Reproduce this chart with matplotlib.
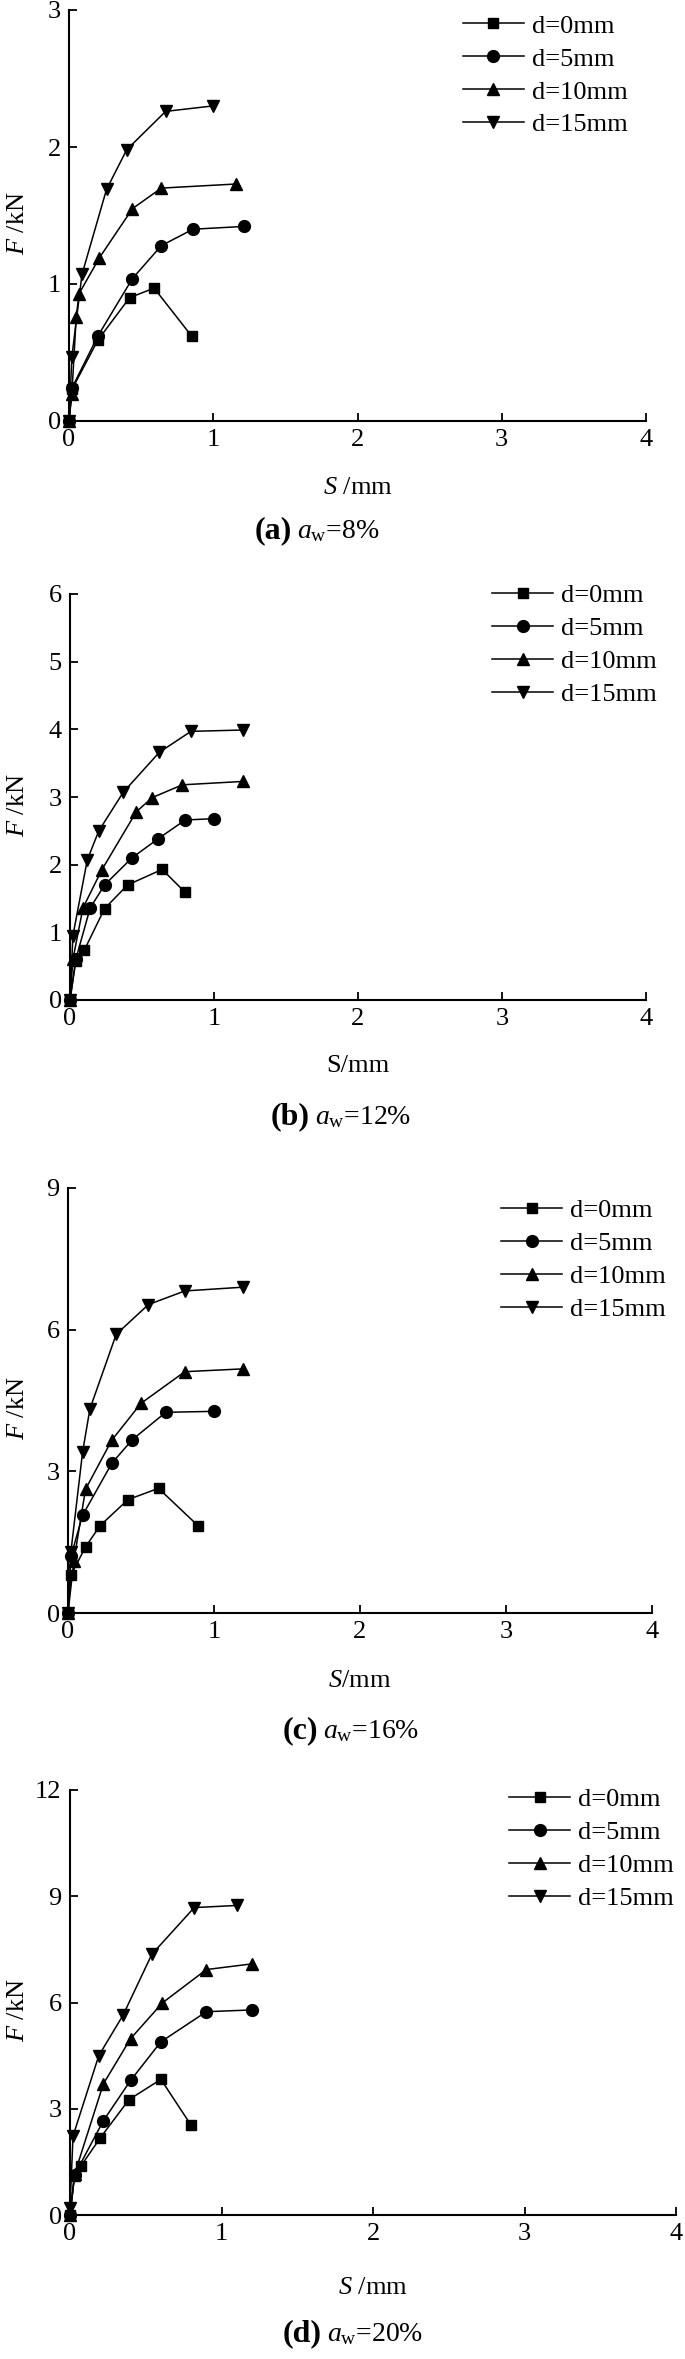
import matplotlib
matplotlib.use("Agg")
import matplotlib.pyplot as plt

plt.rcParams['font.family'] = ['Liberation Serif', 'DejaVu Serif']
plt.rcParams['mathtext.fontset'] = 'custom'
plt.rcParams['mathtext.rm'] = 'Liberation Serif'
plt.rcParams['mathtext.it'] = 'Liberation Serif:italic'
plt.rcParams['mathtext.bf'] = 'Liberation Serif:bold'

labels = ["d=0mm", "d=5mm", "d=10mm", "d=15mm"]
markers = ["s", "o", "^", "v"]
msizes = [7.5, 8.5, 9, 9]

# panel (a) aw=8%
s_a = [[0, 0.02, 0.2, 0.42, 0.59, 0.85],
       [0, 0.02, 0.2, 0.44, 0.64, 0.86, 1.21],
       [0, 0.02, 0.05, 0.07, 0.21, 0.44, 0.64, 1.16],
       [0, 0.02, 0.09, 0.26, 0.40, 0.67, 1.0]]
f_a = [[0, 0.23, 0.59, 0.9, 0.97, 0.62],
       [0, 0.24, 0.62, 1.04, 1.28, 1.40, 1.42],
       [0, 0.2, 0.76, 0.93, 1.19, 1.55, 1.70, 1.73],
       [0, 0.47, 1.07, 1.69, 1.98, 2.26, 2.30]]

# panel (b) aw=12%
s_b = [[0, 0.04, 0.1, 0.24, 0.4, 0.64, 0.8],
       [0, 0.04, 0.14, 0.24, 0.43, 0.61, 0.8, 1.0],
       [0, 0.02, 0.09, 0.22, 0.46, 0.57, 0.78, 1.2],
       [0, 0.02, 0.12, 0.2, 0.37, 0.62, 0.84, 1.2]]
f_b = [[0, 0.57, 0.74, 1.35, 1.70, 1.93, 1.59],
       [0, 0.6, 1.36, 1.70, 2.10, 2.38, 2.66, 2.68],
       [0, 0.6, 1.36, 1.92, 2.78, 2.99, 3.18, 3.23],
       [0, 0.95, 2.07, 2.50, 3.07, 3.66, 3.97, 3.99]]

# panel (c) aw=16%
s_c = [[0, 0.02, 0.12, 0.22, 0.41, 0.62, 0.89],
       [0, 0.02, 0.1, 0.3, 0.44, 0.67, 1.0],
       [0, 0.04, 0.12, 0.3, 0.5, 0.8, 1.2],
       [0, 0.02, 0.1, 0.15, 0.33, 0.55, 0.8, 1.2]]
f_c = [[0, 0.8, 1.4, 1.85, 2.4, 2.64, 1.85],
       [0, 1.2, 2.07, 3.17, 3.67, 4.25, 4.27],
       [0, 1.1, 2.62, 3.66, 4.44, 5.11, 5.17],
       [0, 1.3, 3.41, 4.32, 5.9, 6.53, 6.82, 6.9]]

# panel (d) aw=20%
s_d = [[0, 0.03, 0.07, 0.2, 0.39, 0.6, 0.8],
       [0, 0.03, 0.22, 0.4, 0.6, 0.9, 1.2],
       [0, 0.03, 0.22, 0.4, 0.61, 0.9, 1.2],
       [0, 0.02, 0.19, 0.35, 0.54, 0.82, 1.1]]
f_d = [[0, 1.1, 1.37, 2.18, 3.26, 3.83, 2.53],
       [0, 1.13, 2.66, 3.8, 4.89, 5.74, 5.79],
       [0, 1.15, 3.7, 4.98, 5.99, 6.93, 7.09],
       [0.2, 2.23, 4.5, 5.64, 7.36, 8.68, 8.74]]

y_ticks = [[0, 1, 2, 3], [0, 1, 2, 3, 4, 5, 6], [0, 3, 6, 9], [0, 3, 6, 9, 12]]
x_labels = [r"$\mathit{S}$ /mm", "S/mm", r"$\mathit{S}$/mm", r"$\mathit{S}$ /mm"]
cap_tags = ["(a)", "(b)", "(c)", "(d)"]
cap_vals = [r"$\mathit{a}_{\mathrm{w}}$=8%", r"$\mathit{a}_{\mathrm{w}}$=12%",
            r"$\mathit{a}_{\mathrm{w}}$=16%", r"$\mathit{a}_{\mathrm{w}}$=20%"]

W, H = 685, 2359
fig = plt.figure(figsize=(W / 100, H / 100), dpi=100)

# axes boxes in pixels: left, right, top, bottom
boxes = [(69, 646, 10, 421), (70, 646, 594, 1000),
         (68, 652, 1188, 1613), (70, 676, 1790, 2215)]
leg_pos = [(0.683, 0.99), (0.733, 1.025), (0.742, 0.975), (0.725, 1.005)]
xlab_y = [488, 1066, 1681, 2288]
cap_y = [538, 1124, 1738, 2341]
cap_x = [292, 310, 318, 322]

panels = [(s_a, f_a), (s_b, f_b), (s_c, f_c), (s_d, f_d)]

for i, (s_all, f_all) in enumerate(panels):
    l, r, t, b = boxes[i]
    ax = fig.add_axes([l / W, (H - b) / H, (r - l) / W, (b - t) / H])
    for s, f, m, ms, lab in zip(s_all, f_all, markers, msizes, labels):
        ax.plot(s, f, color="black", lw=1.1, marker=m, ms=ms,
                label=lab, clip_on=False)
    ax.set_xlim(0, 4)
    ax.set_ylim(0, y_ticks[i][-1])
    ax.set_xticks([0, 1, 2, 3, 4])
    ax.set_yticks(y_ticks[i])
    ax.spines["top"].set_visible(False)
    ax.spines["right"].set_visible(False)
    for sp in ("left", "bottom"):
        ax.spines[sp].set_linewidth(1.5)
    ax.tick_params(direction="in", length=6, width=1.3, labelsize=19, pad=6)
    ax.legend(loc="upper left", bbox_to_anchor=leg_pos[i], frameon=False,
              fontsize=19, handlelength=2.3, handletextpad=0.3,
              labelspacing=0.36, borderpad=0, borderaxespad=0)

    fig.text(18 / W, 1 - ((t + b) / 2 + 8) / H, r"$\mathit{F}$ /kN", rotation=90,
             ha="center", va="center", fontsize=19)
    fig.text((l + r) / 2 / W, 1 - xlab_y[i] / H, x_labels[i],
             ha="center", va="center", fontsize=19)
    fig.text(cap_x[i] / W, 1 - cap_y[i] / H, cap_tags[i], fontweight="bold",
             ha="right", va="baseline", fontsize=23)
    fig.text((cap_x[i] + 5) / W, 1 - cap_y[i] / H, cap_vals[i],
             ha="left", va="baseline", fontsize=20)

fig.savefig("out.png", dpi=100)
